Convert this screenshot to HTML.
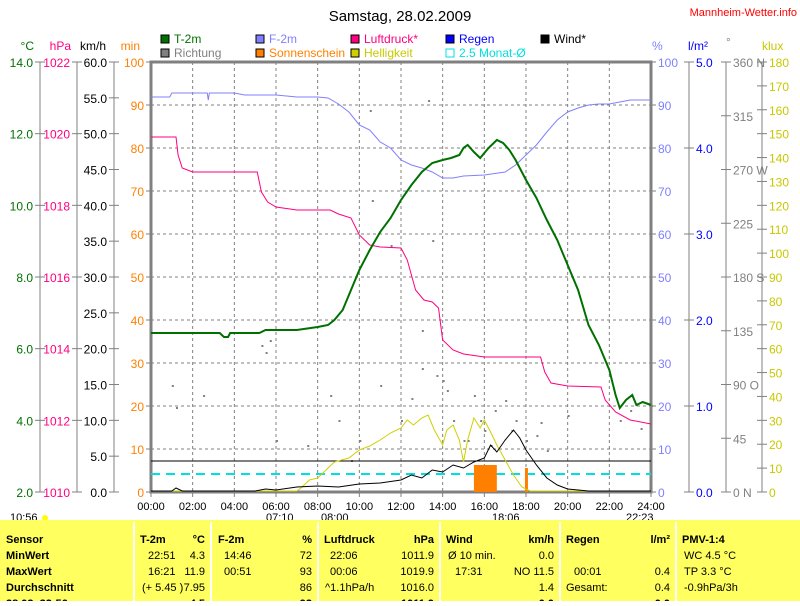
<!DOCTYPE html><html><head><meta charset="utf-8"><style>
body{margin:0;width:800px;height:601px;overflow:hidden;background:#fff;font-family:"Liberation Sans",sans-serif}
svg text{font-family:"Liberation Sans",sans-serif;font-size:12px}
</style></head><body>
<svg id="s" width="800" height="601" xmlns="http://www.w3.org/2000/svg">
<rect x="0" y="0" width="800" height="601" fill="#fff"/>
<text x="400" y="21" text-anchor="middle" style="font-size:15px">Samstag, 28.02.2009</text>
<text x="797" y="16" text-anchor="end" fill="#f00" style="font-size:11px">Mannheim-Wetter.info</text>
<g style="font-size:11px">
<rect x="161" y="35" width="8" height="8" fill="#007000" stroke="#000"/><text x="174" y="43" fill="#007000">T-2m</text>
<rect x="161" y="49" width="8" height="8" fill="#808080" stroke="#000"/><text x="174" y="57" fill="#808080">Richtung</text>
<rect x="256" y="35" width="8" height="8" fill="#8080ff" stroke="#000"/><text x="269" y="43" fill="#8080ff">F-2m</text>
<rect x="256" y="49" width="8" height="8" fill="#ff8000" stroke="#000"/><text x="269" y="57" fill="#ff8000">Sonnenschein</text>
<rect x="351" y="35" width="8" height="8" fill="#ff0080" stroke="#000"/><text x="364" y="43" fill="#ff0080">Luftdruck*</text>
<rect x="351" y="49" width="8" height="8" fill="#d0d000" stroke="#000"/><text x="364" y="57" fill="#c8c800">Helligkeit</text>
<rect x="446" y="35" width="8" height="8" fill="#0000ff" stroke="#000"/><text x="459" y="43" fill="#0000ff">Regen</text>
<rect x="446" y="49" width="8" height="8" fill="none" stroke="#00e0e0"/><text x="459" y="57" fill="#00e0e0">2.5 Monat-Ø</text>
<rect x="541" y="35" width="8" height="8" fill="#000" stroke="#000"/><text x="554" y="43">Wind*</text>
</g>
<g style="font-size:11px">
<text x="34" y="50" text-anchor="end" fill="#007000">°C</text>
<text x="71" y="50" text-anchor="end" fill="#ff0080">hPa</text>
<text x="106" y="50" text-anchor="end">km/h</text>
<text x="140" y="50" text-anchor="end" fill="#ff8000">min</text>
<text x="652" y="50" fill="#8080ff">%</text>
<text x="688" y="50" fill="#0000ff">l/m²</text>
<text x="726" y="46" fill="#808080">°</text>
<text x="762" y="50" fill="#c8c800">klux</text>
</g>
<g id="ax"></g>
<g id="grid"></g>
<g id="data"></g>
<rect x="0" y="520" width="800" height="81" fill="#ffff60"/>
<g id="tbl" style="font-size:11px"></g>
</svg>
<script>
const S='http://www.w3.org/2000/svg';
function el(p,t,a,txt){const e=document.createElementNS(S,t);for(const k in a)e.setAttribute(k,a[k]);if(txt!==undefined)e.textContent=txt;document.getElementById(p).appendChild(e);return e;}
const X0=151,X1=651,Y0=62,Y1=492;
const tx=h=>X0+(X1-X0)*h/24, ty=v=>Y1-(Y1-Y0)*v/100;
for(let i=1;i<12;i++){el('grid','line',{x1:tx(i*2),x2:tx(i*2),y1:Y0,y2:Y1,stroke:'#808080','stroke-dasharray':'3,3'});}
for(let i=1;i<10;i++){el('grid','line',{x1:X0,x2:X1,y1:ty(i*10),y2:ty(i*10),stroke:'#808080','stroke-dasharray':'3,3'});}
el('grid','rect',{x:X0,y:Y0,width:X1-X0,height:Y1-Y0,fill:'none',stroke:'#808080','stroke-width':3});
function axis(lx,n,labels,col,side){
 el('ax','line',{x1:lx,x2:lx,y1:Y0,y2:Y1,stroke:'#808080'});
 for(let i=0;i<=n;i++){const y=Y0+(Y1-Y0)*i/n;
  if(labels[i]!==null){el('ax','line',{x1:lx-5,x2:lx+5,y1:y,y2:y,stroke:'#808080'});
   el('ax','text',{x:side=='L'?lx-7:lx+7,y:y+5,'text-anchor':side=='L'?'end':'start',fill:col,style:'font-size:12px'},labels[i]);}
 }}
axis(40,6,['14.0','12.0','10.0','8.0','6.0','4.0','2.0'],'#007000','L');
axis(77,6,['1022','1020','1018','1016','1014','1012','1010'],'#ff0080','L');
axis(114,12,[...Array(13)].map((_,i)=>(60-5*i).toFixed(1)),'#000','L');
for(let i=0;i<=10;i++){const y=ty(100-i*10);el('ax','line',{x1:X0-5,x2:X0,y1:y,y2:y,stroke:'#808080'});el('ax','text',{x:X0-7,y:y+5,'text-anchor':'end',fill:'#ff8000',style:'font-size:12px'},String(100-i*10));}
for(let i=0;i<=10;i++){const y=ty(100-i*10);el('ax','line',{x1:X1,x2:X1+5,y1:y,y2:y,stroke:'#808080'});el('ax','text',{x:X1+7,y:y+5,fill:'#8080ff',style:'font-size:12px'},String(100-i*10));}
axis(689,5,['5.0','4.0','3.0','2.0','1.0','0.0'],'#0000ff','R');
axis(726,8,['360 N','315','270 W','225','180 S','135','90 O','45','0    N'],'#808080','R');
axis(762,18,[...Array(19)].map((_,i)=>String(180-10*i)),'#c8c800','R');
for(let i=0;i<=12;i++){el('ax','text',{x:tx(i*2),y:510,'text-anchor':'middle',style:'font-size:11px'},(i*2<10?'0':'')+(i*2)+':00');el('ax','line',{x1:tx(i*2),x2:tx(i*2),y1:Y1,y2:Y1+5,stroke:'#808080'});}
el('ax','text',{x:10,y:521,style:'font-size:11px'},'10:56');
el('ax','circle',{cx:45,cy:518,r:3,fill:'#ffff00'});
el('ax','text',{x:266,y:521,style:'font-size:11px'},'07:10');
el('ax','text',{x:321,y:521,style:'font-size:11px'},'08:00');
el('ax','text',{x:492,y:521,style:'font-size:11px'},'18:06');
el('ax','text',{x:626,y:521,style:'font-size:11px'},'22:23');
function poly(pts,col,w){el('data','polyline',{points:pts.map(p=>tx(p[0])+','+p[1]).join(' '),fill:'none',stroke:col,'stroke-width':w||1});}
const dots=[[1,385],[1.2,407],[2.5,395],[5.3,345],[5.5,352],[5.7,340],[8.6,395],[9,420],[10.5,110],[10.6,200],[11.5,245],[12,420],[13,330],[13.3,100],[13.5,240],[13.7,375],[14,380],[14.5,420],[15,440],[15.5,395],[16,430],[16.5,410],[17,400],[17.5,420],[18,440],[18.5,435],[19,450],[20,415],[22.5,420],[23,410],[23.5,428],[24,405],[9.6,460],[10,440],[12.5,398],[14.2,390],[15.2,440],[16.3,445],[17.3,430],[18.7,422],[6,440],[7.5,445],[11,385],[13,368],[15.8,420]];
dots.forEach(d=>el('data','rect',{x:tx(d[0]),y:d[1],width:2,height:2,fill:'#808080'}));
el('data','line',{x1:X0,x2:X1,y1:474,y2:474,stroke:'#00e0e0','stroke-width':2,'stroke-dasharray':'9,6'});
el('data','line',{x1:X0,x2:X1,y1:461,y2:461,stroke:'#000'});
el('data','rect',{x:tx(15.5),y:465,width:tx(16.6)-tx(15.5),height:27,fill:'#ff8000'});
el('data','rect',{x:tx(17.95),y:468,width:3,height:24,fill:'#ff8000'});
poly([[0,97],[0.9,97],[1,93],[2.7,93],[2.75,100],[2.8,93],[4,93],[4.5,95],[6,95],[7,97],[8,97],[8.5,98],[9,104],[9.5,112],[10,125],[10.5,130],[11,142],[11.5,148],[12,160],[12.5,165],[13,168],[13.5,172],[14,178],[14.5,178],[15,176],[16,175],[17,172],[17.5,165],[18,155],[18.5,145],[19,132],[19.5,120],[20,112],[20.5,108],[21,105],[21.5,104],[22,104],[23,100],[24,100]],'#8080ff');
poly([[0,137],[1.2,137],[1.3,155],[1.5,168],[2,172],[5.1,172],[5.3,192],[5.6,202],[6,207],[7,210],[8.6,210],[9,214],[9.6,218],[10,235],[10.5,245],[11,247],[12,248],[12.3,260],[12.7,290],[13.1,300],[13.5,302],[13.8,308],[14,340],[14.5,350],[15,354],[16,357],[17,357],[18.7,357],[18.9,372],[19.2,383],[20,386],[21.6,387],[21.8,400],[22.3,412],[23,420],[24,424]],'#ff0080');
poly([[0,333],[3.3,333],[3.5,337],[3.7,337],[3.8,333],[5.2,333],[5.5,330],[7,330],[8,327],[8.5,325],[8.8,320],[9.2,310],[9.6,290],[10,270],[10.5,250],[11,232],[11.5,218],[12,200],[12.5,185],[13,172],[13.5,163],[14,160],[14.4,158],[14.8,155],[15,148],[15.2,145],[15.5,152],[15.8,158],[16.2,148],[16.6,140],[16.9,143],[17.2,150],[17.5,160],[18,180],[18.5,198],[19,220],[19.5,240],[20,265],[20.5,290],[21,325],[21.5,345],[21.8,360],[22,370],[22.3,395],[22.5,408],[22.8,400],[23.1,395],[23.3,405],[23.6,402],[24,405]],'#007000',2);
poly([[0,491],[7,491],[7.2,488],[7.6,480],[8,478],[8.4,470],[8.8,462],[9.5,458],[10,450],[10.5,446],[11,440],[11.5,433],[12,428],[12.3,420],[12.6,425],[13,418],[13.3,415],[13.6,430],[14,445],[14.2,430],[14.5,425],[14.8,440],[15,462],[15.2,440],[15.5,418],[15.8,428],[16,420],[16.3,432],[16.6,445],[17,460],[17.4,475],[17.8,487],[18.2,491],[24,491]],'#d0d000');
poly([[0,491],[1,491],[1.2,488],[1.5,491],[5,491],[5.5,489],[6,490],[7,487],[8,486],[9,487],[10,484],[11,483],[12,480],[12.5,475],[13,478],[13.5,470],[14,472],[14.5,465],[15,468],[15.5,462],[16,458],[16.3,445],[16.6,452],[17,440],[17.4,430],[17.7,438],[18,450],[18.5,465],[19,478],[19.5,485],[20,489],[21,491],[24,491]],'#000');
const T='tbl';
[134,211,318,440,560,676].forEach(x=>el(T,'line',{x1:x,x2:x,y1:522,y2:601,stroke:'#fff','stroke-width':2}));
const rows=[543,559,575,591,607];
function t(x,y,s,anchor,bold){el(T,'text',{x:x,y:y,'text-anchor':anchor||'start','font-weight':bold?'bold':'normal',style:'font-size:11px'},s);}
['Sensor','MinWert','MaxWert','Durchschnitt','28.02. 22:56'].forEach((s,i)=>t(6,rows[i],s,'start',true));
t(140,543,'T-2m','start',true);t(205,543,'°C','end',true);
t(218,543,'F-2m','start',true);t(312,543,'%','end',true);
t(324,543,'Luftdruck','start',true);t(434,543,'hPa','end',true);
t(446,543,'Wind','start',true);t(554,543,'km/h','end',true);
t(566,543,'Regen','start',true);t(670,543,'l/m²','end',true);
t(682,543,'PMV-1:4','start',true);
t(148,559,'22:51');t(205,559,'4.3','end');t(148,575,'16:21');t(205,575,'11.9','end');t(142,591,'(+ 5.45 )');t(205,591,'7.95','end');t(205,607,'4.5','end',true);
t(224,559,'14:46');t(312,559,'72','end');t(224,575,'00:51');t(312,575,'93','end');t(312,591,'86','end');t(312,607,'92','end',true);
t(330,559,'22:06');t(434,559,'1011.9','end');t(330,575,'00:06');t(434,575,'1019.9','end');t(325,591,'^1.1hPa/h');t(434,591,'1016.0','end');t(434,607,'1011.9','end',true);
t(448,559,'Ø 10 min.');t(554,559,'0.0','end');t(455,575,'17:31');t(554,575,'NO 11.5','end');t(554,591,'1.4','end');t(554,607,'0.0','end',true);
t(574,575,'00:01');t(670,575,'0.4','end');t(566,591,'Gesamt:');t(670,591,'0.4','end');t(670,607,'0.0','end',true);
t(684,559,'WC 4.5 °C');t(684,575,'TP 3.3 °C');t(684,591,'-0.9hPa/3h');
</script>
</body></html>
